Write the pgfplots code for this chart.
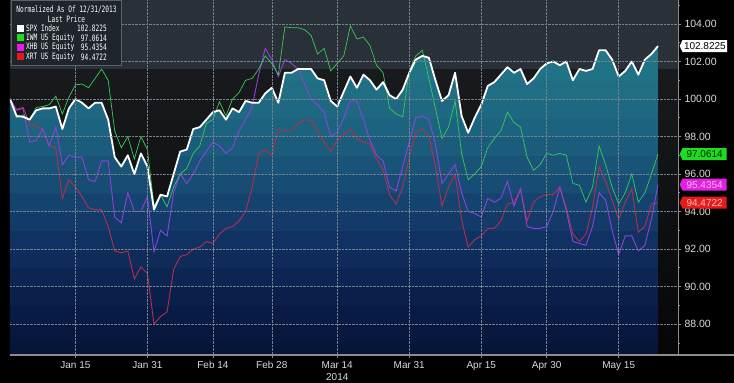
\documentclass[border=0pt]{standalone}
\usepackage{fontspec}
\setmainfont{Liberation Sans}
\newfontfamily\legfont{DejaVu Sans Mono}[FakeStretch=0.7]
\usepackage{pgfplots}
\pgfplotsset{compat=1.18}
\usepackage{pgfplotstable}
\usetikzlibrary{shapes.symbols}

\definecolor{slate}{HTML}{2A3037}
\definecolor{bgtop}{HTML}{1D1F22}
\definecolor{bgbot}{HTML}{060607}
\definecolor{gridc}{HTML}{74818E}
\definecolor{axisgray}{HTML}{8C8C8C}
\definecolor{tickc}{HTML}{DADADA}
\definecolor{iwmc}{HTML}{38CC55}
\definecolor{xhbc}{HTML}{9040DC}
\definecolor{xrtc}{HTML}{B52E4C}
\definecolor{legbg}{HTML}{1F252B}
\definecolor{legbd}{HTML}{5A6168}
\definecolor{tagg}{HTML}{1EDC1E}
\definecolor{tagm}{HTML}{E21FE2}
\definecolor{tagr}{HTML}{E51A1A}
\definecolor{ba}{HTML}{061437}
\definecolor{bb}{HTML}{07173D}
\definecolor{bc}{HTML}{081B44}
\definecolor{bd}{HTML}{0A204B}
\definecolor{be}{HTML}{0C2553}
\definecolor{bf}{HTML}{0E2B5A}
\definecolor{bg}{HTML}{103262}
\definecolor{bh}{HTML}{133A69}
\definecolor{bi}{HTML}{15436F}
\definecolor{bj}{HTML}{174C74}
\definecolor{bk}{HTML}{195478}
\definecolor{bl}{HTML}{1B5C7C}
\definecolor{bm}{HTML}{1C637F}
\definecolor{bn}{HTML}{1E6981}
\definecolor{bo}{HTML}{1F6E83}
\definecolor{bp}{HTML}{207285}
\definecolor{bq}{HTML}{227687}

\pgfdeclareverticalshading{areashade}{100bp}{%
color(0bp)=(ba); color(26.95bp)=(ba);
color(27.00bp)=(bb); color(29.98bp)=(bb);
color(30.03bp)=(bc); color(33.02bp)=(bc);
color(33.07bp)=(bd); color(36.05bp)=(bd);
color(36.10bp)=(be); color(39.09bp)=(be);
color(39.14bp)=(bf); color(42.12bp)=(bf);
color(42.17bp)=(bg); color(45.16bp)=(bg);
color(45.21bp)=(bh); color(48.19bp)=(bh);
color(48.24bp)=(bi); color(51.23bp)=(bi);
color(51.28bp)=(bj); color(54.26bp)=(bj);
color(54.31bp)=(bk); color(57.30bp)=(bk);
color(57.35bp)=(bl); color(60.34bp)=(bl);
color(60.39bp)=(bm); color(63.37bp)=(bm);
color(63.42bp)=(bn); color(66.41bp)=(bn);
color(66.46bp)=(bo); color(69.44bp)=(bo);
color(69.49bp)=(bp); color(72.48bp)=(bp);
color(72.53bp)=(bq); color(100bp)=(bq)}

\pgfplotstableread{
i spx iwm xhb xrt
0 100.00 100.00 100.00 100.00
1 99.10 99.00 99.40 99.45
2 99.05 99.15 99.50 99.55
3 98.90 98.90 97.70 98.70
4 99.40 99.55 97.80 98.50
5 99.50 99.60 98.40 98.40
6 99.50 99.70 97.50 97.50
7 99.60 100.15 98.50 97.40
8 98.40 99.20 96.50 94.70
9 99.50 100.10 97.00 95.70
10 100.00 100.75 96.90 95.30
11 99.80 100.80 96.90 94.80
12 99.50 100.60 95.70 94.20
13 99.80 101.10 95.60 94.10
14 99.80 101.60 96.70 94.10
15 98.90 101.00 96.70 93.20
16 96.90 98.30 93.70 91.90
17 96.40 97.40 93.40 91.80
18 97.00 98.00 95.00 91.90
19 96.00 96.80 94.00 90.40
20 97.10 98.00 94.00 91.05
21 96.40 97.30 94.80 90.70
22 94.10 94.30 91.85 88.00
23 94.90 94.90 93.00 88.40
24 94.80 94.25 92.70 88.65
25 96.00 95.30 95.00 90.90
26 97.20 96.00 96.00 91.60
27 97.30 96.30 95.50 91.70
28 98.40 97.10 96.00 92.00
29 98.50 97.50 96.70 92.10
30 98.90 98.70 97.20 92.40
31 99.30 98.90 97.70 92.30
32 99.40 99.85 97.50 92.80
33 98.90 99.10 97.10 93.10
34 99.50 100.00 97.40 93.20
35 99.30 100.35 98.30 93.50
36 99.90 101.00 98.90 94.00
37 99.80 101.10 99.60 95.30
38 99.80 101.60 101.30 97.10
39 100.30 102.30 102.70 97.30
40 100.60 101.90 102.10 97.00
41 99.80 101.30 101.20 98.40
42 101.40 103.85 102.10 98.30
43 101.40 103.80 101.90 98.30
44 101.60 103.80 101.60 98.70
45 101.60 103.70 100.80 98.90
46 101.60 103.40 100.00 98.85
47 101.10 102.40 99.70 98.30
48 101.00 102.70 99.30 97.70
49 99.90 101.50 98.00 97.20
50 99.60 101.90 98.20 97.80
51 100.40 102.30 99.00 98.10
52 101.20 103.90 99.90 98.40
53 100.60 103.20 99.90 97.90
54 101.30 103.30 98.90 97.70
55 101.00 102.85 97.80 97.60
56 100.50 101.80 97.00 96.80
57 100.90 101.40 96.70 96.20
58 100.20 99.50 95.30 94.90
59 100.00 99.20 95.10 94.40
60 100.50 99.05 96.40 95.30
61 101.40 101.50 97.70 96.90
62 102.10 102.30 99.00 98.20
63 102.30 102.60 99.10 98.40
64 102.20 101.10 98.90 98.00
65 101.00 99.50 97.60 96.40
66 99.90 97.90 95.50 94.30
67 100.20 98.50 96.00 95.30
68 101.40 99.90 96.50 96.00
69 99.10 97.10 95.00 93.55
70 98.20 95.70 94.00 92.10
71 99.00 96.00 93.90 92.50
72 99.70 96.40 93.70 92.70
73 100.70 97.40 94.70 93.10
74 100.90 97.90 94.50 93.10
75 101.30 98.30 94.70 93.50
76 101.70 99.30 95.60 94.40
77 101.40 98.75 94.30 94.50
78 101.60 98.50 95.20 95.20
79 100.80 96.90 93.20 93.50
80 101.10 96.20 93.10 94.50
81 101.60 96.50 93.10 94.80
82 101.90 97.10 93.20 94.90
83 102.00 97.00 94.00 94.90
84 101.80 97.10 95.30 95.30
85 102.00 97.00 94.05 94.20
86 101.00 95.50 92.40 92.80
87 101.60 95.40 92.30 92.40
88 101.50 94.50 92.20 92.80
89 101.60 95.30 93.20 94.20
90 102.60 97.50 95.00 96.40
91 102.60 96.50 94.60 95.60
92 102.10 95.30 93.00 94.60
93 101.20 94.40 91.70 93.60
94 101.50 95.00 92.70 94.50
95 102.00 96.00 92.70 95.20
96 101.30 94.50 91.90 92.90
97 102.10 95.00 92.20 93.20
98 102.40 96.00 93.60 94.40
99 102.8225 97.0614 95.4354 94.4722
}\data

\tikzset{tag/.style={signal, signal to=west, signal pointer angle=130,
  anchor=west, minimum height=12pt, minimum width=47pt, inner xsep=1.5pt,
  inner ysep=0pt, font=\fontsize{10}{10}\selectfont}}

\begin{document}
\begin{tikzpicture}
\fill[black] (0,0) rectangle (734pt,383pt);
\useasboundingbox (0,0) rectangle (734pt,383pt);
\begin{axis}[
  at={(10pt,28pt)}, anchor=south west,
  scale only axis, width=668pt, height=355pt,
  xmin=0, xmax=102.06, ymin=86.35, ymax=105.28,
  axis background/.style={top color=bgtop, bottom color=bgbot},
  axis x line*=bottom, axis y line*=right,
  x axis line style={-, draw=axisgray, line width=2.5pt},
  y axis line style={-, draw=axisgray, line width=0.8pt},
  xtick={10,21,31,40,50,61,72,82,93},
  xticklabels={Jan 15,Jan 31,Feb 14,Feb 28,Mar 14,Mar 31,Apr 15,Apr 30,May 15},
  ytick={88,90,...,104},
  yticklabels={88.00,90.00,92.00,94.00,96.00,98.00,100.00,102.00,104.00},
  minor ytick={87,89,...,105},
  tick align=outside, major tick length=3pt, minor tick length=2pt,
  ytick pos=right, yticklabel pos=right, xtick pos=bottom,
  tick style={draw=axisgray, line width=0.6pt},
  tick label style={text=tickc},
  xticklabel style={font=\fontsize{10}{12}\selectfont},
  yticklabel style={font=\fontsize{10.5}{12}\selectfont},
  grid=major,
  major grid style={densely dotted, draw=gridc, line width=0.5pt},
  axis on top,
  clip mode=individual,
]
\addplot[draw=none, fill=slate, forget plot] coordinates {(0,101.6) (102.06,101.6) (102.06,105.28) (0,105.28)} -- cycle;
\addplot[shade, shading=areashade, draw=none, forget plot] table[x=i,y=spx] {\data} |- (axis cs:0,86.35) -- cycle;
\addplot[xrtc, line width=0.9pt] table[x=i,y=xrt] {\data};
\addplot[xhbc, line width=0.9pt] table[x=i,y=xhb] {\data};
\addplot[iwmc, line width=0.7pt] table[x=i,y=iwm] {\data};
\addplot[white, line width=1.8pt, line join=round] table[x=i,y=spx] {\data};
\coordinate (t1) at (axis cs:102.06,102.8225);
\coordinate (t2) at (axis cs:102.06,97.0614);
\coordinate (t3) at (axis cs:102.06,95.4354);
\coordinate (t4) at (axis cs:102.06,94.4722);
\coordinate (yr) at (axis cs:50,86.35);
\end{axis}
\draw[axisgray, line width=2.5pt] (678pt,28pt) -- (734pt,28pt);
\node[text=tickc, font=\fontsize{10}{12}\selectfont, anchor=center] at ([yshift=-22pt]yr) {2014};
\node[tag, fill=white, text=black] at ([xshift=1.5pt]t1) {102.8225};
\node[tag, fill=tagg, text=black!85!green] at ([xshift=1.5pt]t2) {97.0614};
\node[tag, fill=tagm, text=white!75!magenta] at ([xshift=1.5pt]t3) {95.4354};
\node[tag, fill=tagr, text=white!75!red] at ([xshift=1.5pt]t4) {94.4722};
% legend
\node[draw=legbd, fill=legbg, anchor=north west, minimum width=110pt, minimum height=65pt, inner sep=0pt] at (11pt,383pt) {};
\begin{scope}[every node/.style={text=white, font=\legfont\fontsize{8.8}{9}\selectfont, inner sep=0pt}]
\node at (66.5pt,373pt) {Normalized As Of 12/31/2013};
\node at (66.5pt,363.5pt) {Last Price};
\fill[white] (17pt,351pt) rectangle (24pt,358pt);
\node[anchor=west] at (26pt,354.5pt) {SPX Index};
\node[anchor=east] at (107pt,354.5pt) {102.8225};
\fill[tagg] (17pt,341.5pt) rectangle (24pt,348.5pt);
\node[anchor=west] at (26pt,345pt) {IWM US Equity};
\node[anchor=east] at (107pt,345pt) {97.0614};
\fill[tagm] (17pt,332pt) rectangle (24pt,339pt);
\node[anchor=west] at (26pt,335.5pt) {XHB US Equity};
\node[anchor=east] at (107pt,335.5pt) {95.4354};
\fill[tagr] (17pt,322.5pt) rectangle (24pt,329.5pt);
\node[anchor=west] at (26pt,326pt) {XRT US Equity};
\node[anchor=east] at (107pt,326pt) {94.4722};
\end{scope}
\end{tikzpicture}
\end{document}
